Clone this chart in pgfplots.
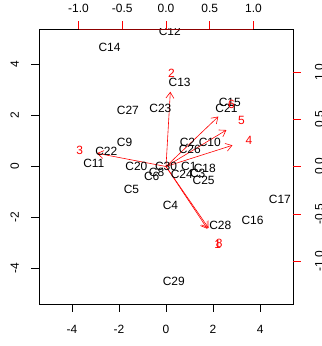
\documentclass[border=0pt]{standalone}
\usepackage{pgfplots}
\pgfplotsset{compat=1.18}
\usepackage{pgfplotstable}
\usepackage{fontspec}
\setmainfont{Liberation Sans}
\usetikzlibrary{arrows.meta}
\pgfplotstableread{
x y label
0.97 -0.01 C1
0.91 0.94 C2
1.35 -0.27 C3
0.19 -1.52 C4
-1.47 -0.91 C5
-0.61 -0.40 C6
-0.40 -0.23 C8
-1.76 0.94 C9
1.86 0.94 C10
-3.07 0.13 C11
0.16 5.30 C12
0.58 3.32 C13
-2.40 4.69 C14
2.71 2.52 C15
3.68 -2.12 C16
4.84 -1.30 C17
1.65 -0.07 C18
-1.26 0.00 C20
2.57 2.28 C21
-2.54 0.59 C22
-0.24 2.28 C23
0.67 -0.32 C24
1.60 -0.56 C25
1.01 0.68 C26
-1.62 2.21 C27
2.31 -2.32 C28
0.33 -4.51 C29
0.00 -0.01 C30
}\scores
\pgfplotstableread{
x y label
2.20 -3.06 1
0.23 3.67 2
-3.67 0.65 3
3.53 1.04 4
3.21 1.79 5
2.78 2.45 6
2.26 -3.02 8
}\loadlab
\begin{document}
\begin{tikzpicture}
\begin{axis}[
  at={(0,0)}, anchor=south west, scale only axis,
  width=254bp, height=275bp,
  xmin=-5.4, xmax=5.4, ymin=-5.4, ymax=5.4,
  xtick={-4,-2,0,2,4}, ytick={-4,-2,0,2,4},
  xticklabels={-4,-2,0,2,4}, yticklabels={-4,-2,0,2,4},
  xtick pos=left, ytick pos=left, tick align=outside,
  major tick length=7.5bp,
  tick style={black, line width=0.6bp},
  axis line style={line width=0.8bp},
  tick label style={font=\fontsize{12}{14}\selectfont},
  yticklabel style={rotate=90, anchor=south},
  xticklabel shift=10bp, yticklabel shift=9bp,
  clip marker paths=true,
]
\addplot[red, line width=0.6bp, -{Straight Barb[length=6bp,width=8bp]}] coordinates {(0,0) (1.760,-2.448)};
\addplot[red, line width=0.6bp, -{Straight Barb[length=6bp,width=8bp]}] coordinates {(0,0) (0.184,2.936)};
\addplot[red, line width=0.6bp, -{Straight Barb[length=6bp,width=8bp]}] coordinates {(0,0) (-2.936,0.520)};
\addplot[red, line width=0.6bp, -{Straight Barb[length=6bp,width=8bp]}] coordinates {(0,0) (2.824,0.832)};
\addplot[red, line width=0.6bp, -{Straight Barb[length=6bp,width=8bp]}] coordinates {(0,0) (2.568,1.432)};
\addplot[red, line width=0.6bp, -{Straight Barb[length=6bp,width=8bp]}] coordinates {(0,0) (2.224,1.960)};
\addplot[red, line width=0.6bp, -{Straight Barb[length=6bp,width=8bp]}] coordinates {(0,0) (1.808,-2.416)};
\addplot[draw=none, nodes near coords, point meta=explicit symbolic,
  every node near coord/.style={anchor=center, inner sep=0pt, font=\fontsize{12}{14}\selectfont, text=black}]
  table[x=x, y=y, meta=label] {\scores};
\addplot[draw=none, nodes near coords, point meta=explicit symbolic,
  every node near coord/.style={anchor=center, inner sep=0pt, font=\fontsize{12}{14}\selectfont, text=red}]
  table[x=x, y=y, meta=label] {\loadlab};
\end{axis}
\begin{axis}[
  at={(0,0)}, anchor=south west, scale only axis,
  width=254bp, height=275bp,
  xmin=-1.452, xmax=1.452, ymin=-1.452, ymax=1.452,
  axis x line*=top, axis y line*=right,
  axis line style={draw=none},
  xtick={-1,-0.5,0,0.5,1}, ytick={-1,-0.5,0,0.5,1},
  xticklabels={-1.0,-0.5,0.0,0.5,1.0}, yticklabels={-1.0,-0.5,0.0,0.5,1.0},
  tick align=outside, major tick length=7.5bp,
  tick style={red, line width=0.6bp},
  tick label style={font=\fontsize{12}{14}\selectfont},
  yticklabel style={rotate=90, anchor=north},
  xticklabel shift=5bp, yticklabel shift=11bp,
]
\addplot[draw=none] coordinates {(0,0)};
\draw[red!55!black, line width=0.8bp] (axis cs:-1,1.452) -- (axis cs:1,1.452);
\end{axis}
\pgfresetboundingbox
\useasboundingbox (-39bp,-42bp) rectangle (283bp,304bp);
\end{tikzpicture}
\end{document}
